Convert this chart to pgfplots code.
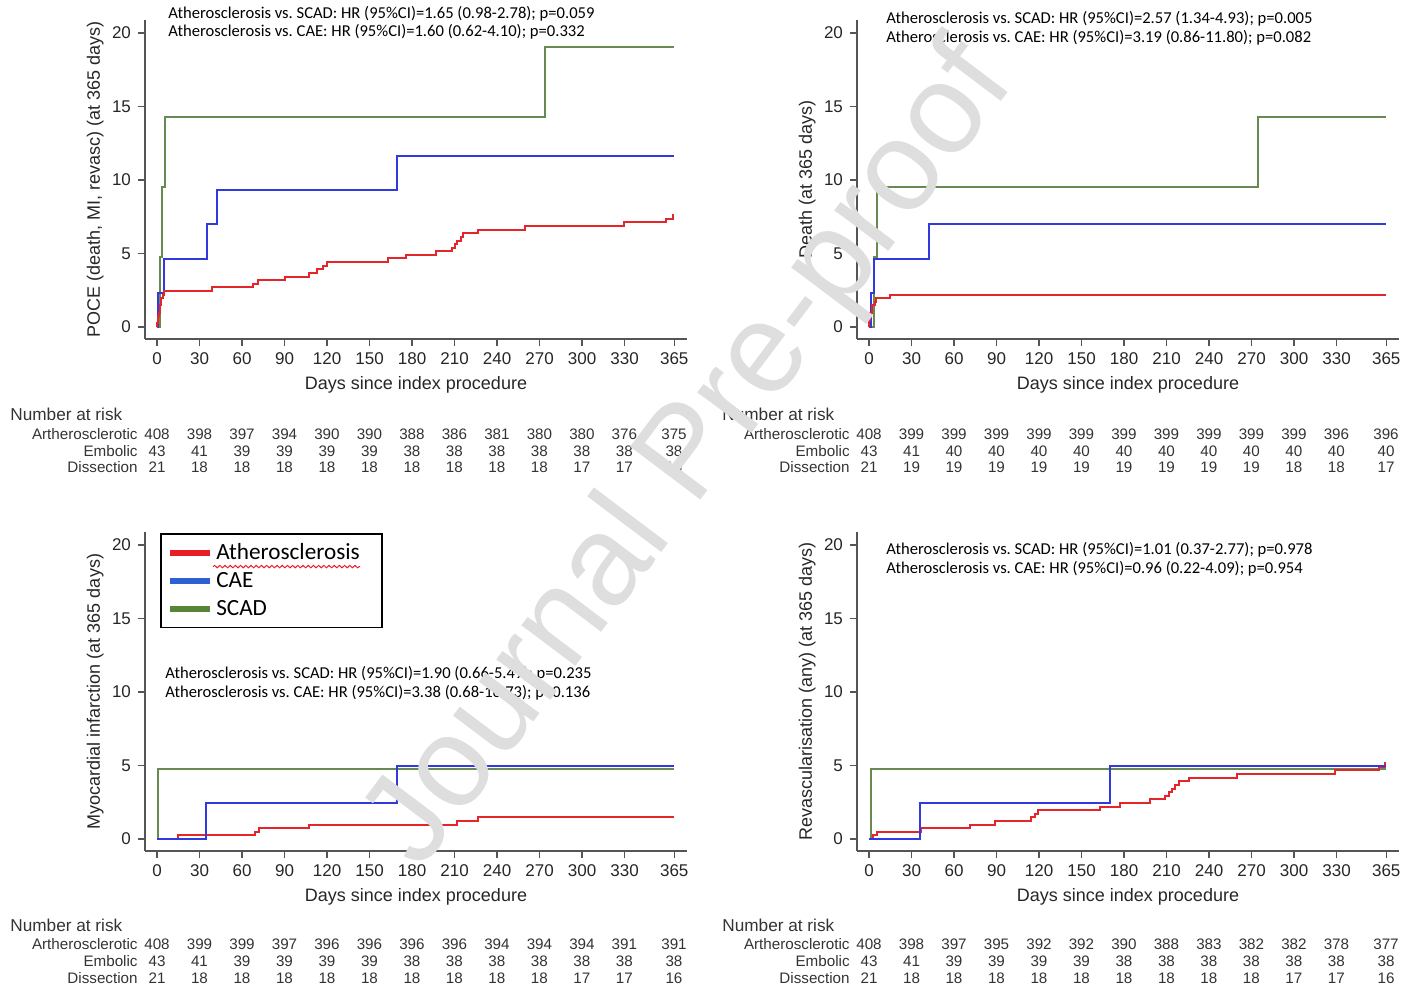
\documentclass[border=0pt]{standalone}
\usepackage{pgfplots}
\pgfplotsset{compat=1.18}
\usepackage{fontspec}
\setmainfont{Liberation Sans}
\newfontfamily\calfont{Carlito}
\usetikzlibrary{decorations.pathmorphing}
\definecolor{kmred}{RGB}{228,38,42}
\definecolor{kmblue}{RGB}{48,58,222}
\definecolor{kmgreen}{RGB}{104,138,82}
\definecolor{lgred}{RGB}{232,30,38}
\definecolor{lgblue}{RGB}{44,96,212}
\definecolor{lggreen}{RGB}{88,132,56}
\definecolor{axgray}{RGB}{85,85,85}
\newcommand\tabfont{\fontsize{7.6}{9}\selectfont}
\newcommand\hrfont{\calfont\fontsize{8.3}{9.5}\selectfont}
\newcommand\riskrow[4]{%
  \node[anchor=east, inner sep=0pt, font=\tabfont, text=black!80] at ({(#1-9.5)*1pt}, {#2*1pt}) {#3};
  \foreach \v [count=\i from 0] in {#4} {
    \pgfmathsetmacro\dd{\i==12 ? 365 : 30*\i}
    \node[font=\tabfont, inner sep=0pt, text=black!80] at ({(#1+0.7082*\dd)*1pt}, {#2*1pt}) {\v};
  }%
}
\pgfplotsset{
  km/.style={
    scale only axis, width=271pt, height=159.5pt, anchor=south west,
    xmin=-8.5, xmax=374, ymin=-0.816, ymax=20.88,
    axis x line*=bottom, axis y line*=left,
    axis line style={axgray, line width=0.7pt},
    xtick={0,30,60,90,120,150,180,210,240,270,300,330,365},
    ytick={0,5,10,15,20},
    tick align=outside, major tick length=3.5pt,
    tick style={axgray, line width=0.7pt},
    tick label style={font=\fontsize{8.5}{10}\selectfont, text=black!85},
    /pgf/number format/assume math mode=true,
    xlabel={Days since index procedure},
    xlabel style={at={(axis description cs:0.5,-0.144)}, anchor=center, font=\fontsize{9}{11}\selectfont, text=black!85},
    ylabel style={at={(axis description cs:-0.092,0.5)}, anchor=center, font=\fontsize{9}{11}\selectfont, text=black!85},
  },
  gr/.style={const plot, kmgreen, line width=1pt, forget plot},
  rd/.style={const plot, kmred, line width=1pt, forget plot},
  bl/.style={const plot, kmblue, line width=1pt, forget plot},
}
\begin{document}
\begin{tikzpicture}
\useasboundingbox (0,0) rectangle (709.5pt,-495.5pt);

% ---------- Top left: POCE
\begin{axis}[km, at={(72.5pt,-169.5pt)}, ylabel={POCE (death, MI, revasc) (at 365 days)}]
\addplot[gr] coordinates {(0,0) (1.8,4.76) (3.3,9.52) (5.8,14.29) (274,19.05) (365,19.05)};
\addplot[bl] coordinates {(0,0) (1,2.33) (4.9,4.65) (35,6.98) (42,9.30) (169,11.63) (365,11.63)};
\addplot[rd] coordinates {(0,0) (0.3,0.25) (0.6,0.49) (1,0.74) (1.5,0.98) (2,1.47) (3,1.96) (4,2.21) (5,2.45) (39,2.70) (68,2.94) (71,3.19) (90,3.43) (107,3.68) (113,3.92) (117,4.17) (120,4.41) (163,4.66) (176,4.90) (197,5.15) (208,5.39) (210,5.64) (212,5.88) (214.5,6.13) (216,6.37) (226.5,6.62) (260,6.86) (329.6,7.11) (359,7.35) (364,7.60) (365,7.60)};
\end{axis}

% ---------- Top right: Death
\begin{axis}[km, at={(428.5pt,-169.5pt)}, ylabel={Death (at 365 days)}]
\addplot[gr] coordinates {(0,0) (3.2,4.76) (5.7,9.52) (274.7,14.29) (365,14.29)};
\addplot[bl] coordinates {(0,0) (1.2,2.33) (3.8,4.65) (42,6.98) (365,6.98)};
\addplot[rd] coordinates {(0,0) (0.3,0.49) (1,0.98) (2,1.47) (4,1.72) (5,1.96) (14.6,2.21) (365,2.21)};
\end{axis}

% ---------- Bottom left: MI
\begin{axis}[km, at={(72.5pt,-425.5pt)}, ylabel={Myocardial infarction (at 365 days)},
  legend image code/.code={\draw[#1, line width=3pt] (0pt,0pt) -- (20pt,0pt);},
  legend cell align=left,
  legend style={at={(0.028,0.997)}, anchor=north west, draw=black, line width=0.9pt,
    font=\calfont\fontsize{11.6}{12}\selectfont, inner xsep=3pt, inner ysep=3pt,
    nodes={inner sep=1.6pt}, row sep=1.8pt}]
\addplot[gr] coordinates {(0,0) (1,4.76) (365,4.76)};
\addplot[rd] coordinates {(0,0) (15,0.25) (69,0.49) (72,0.74) (107,0.98) (212,1.23) (226.5,1.47) (365,1.47)};
\addplot[bl] coordinates {(0,0) (34.7,2.44) (169,4.94) (365,4.94)};
\addlegendimage{lgred}\addlegendentry{Atherosclerosis\hspace*{6.5pt}\mbox{}}
\addlegendimage{lgblue}\addlegendentry{CAE}
\addlegendimage{lggreen}\addlegendentry{SCAD}
\end{axis}

% ---------- Bottom right: Revascularisation
\begin{axis}[km, at={(428.5pt,-425.5pt)}, ylabel={Revascularisation (any) (at 365 days)}]
\addplot[gr] coordinates {(0,0) (1.2,4.76) (365,4.76)};
\addplot[rd] coordinates {(0,0) (3,0.25) (5.5,0.49) (37,0.74) (71,0.98) (89,1.23) (114,1.47) (117,1.72) (119,1.96) (163,2.21) (177,2.45) (198,2.70) (209,2.94) (212,3.19) (214,3.43) (216,3.68) (219,3.92) (226,4.17) (260,4.41) (329,4.66) (360,4.90) (364,5.15) (365,5.15)};
\addplot[bl] coordinates {(0,0) (36,2.44) (170,4.94) (365,4.94)};
\end{axis}

% ---------- HR annotations
\node[anchor=west, inner sep=0pt, font=\hrfont] at (84pt,-7pt) {Atherosclerosis vs.\ SCAD: HR (95\%CI)=1.65 (0.98-2.78); p=0.059};
\node[anchor=west, inner sep=0pt, font=\hrfont] at (84pt,-16pt) {Atherosclerosis vs.\ CAE: HR (95\%CI)=1.60 (0.62-4.10); p=0.332};
\node[anchor=west, inner sep=0pt, font=\hrfont] at (443pt,-9.5pt) {Atherosclerosis vs.\ SCAD: HR (95\%CI)=2.57 (1.34-4.93); p=0.005};
\node[anchor=west, inner sep=0pt, font=\hrfont] at (443pt,-19pt) {Atherosclerosis vs.\ CAE: HR (95\%CI)=3.19 (0.86-11.80); p=0.082};
\node[anchor=west, inner sep=0pt, font=\hrfont] at (82.5pt,-337pt) {Atherosclerosis vs.\ SCAD: HR (95\%CI)=1.90 (0.66-5.49); p=0.235};
\node[anchor=west, inner sep=0pt, font=\hrfont] at (82.5pt,-346.5pt) {Atherosclerosis vs.\ CAE: HR (95\%CI)=3.38 (0.68-16.73); p=0.136};
\node[anchor=west, inner sep=0pt, font=\hrfont] at (443pt,-275pt) {Atherosclerosis vs.\ SCAD: HR (95\%CI)=1.01 (0.37-2.77); p=0.978};
\node[anchor=west, inner sep=0pt, font=\hrfont] at (443pt,-284.5pt) {Atherosclerosis vs.\ CAE: HR (95\%CI)=0.96 (0.22-4.09); p=0.954};

% ---------- legend spell-check underline
\draw[lgred, line width=0.5pt, decorate, decoration={snake, amplitude=0.6pt, segment length=2.6pt}] (106.5pt,-283.3pt) -- (180pt,-283.3pt);

% ---------- Number at risk tables
\node[anchor=west, inner sep=0pt, font=\fontsize{8.6}{10}\selectfont, text=black!80] at (5pt,-207pt) {Number at risk};
\riskrow{78.5}{-217}{Artherosclerotic}{408,398,397,394,390,390,388,386,381,380,380,376,375}
\riskrow{78.5}{-225.5}{Embolic}{43,41,39,39,39,39,38,38,38,38,38,38,38}
\riskrow{78.5}{-233.5}{Dissection}{21,18,18,18,18,18,18,18,18,18,17,17,16}

\node[anchor=west, inner sep=0pt, font=\fontsize{8.6}{10}\selectfont, text=black!80] at (361pt,-207pt) {Number at risk};
\riskrow{434.5}{-217}{Artherosclerotic}{408,399,399,399,399,399,399,399,399,399,399,396,396}
\riskrow{434.5}{-225.5}{Embolic}{43,41,40,40,40,40,40,40,40,40,40,40,40}
\riskrow{434.5}{-233.5}{Dissection}{21,19,19,19,19,19,19,19,19,19,18,18,17}

\node[anchor=west, inner sep=0pt, font=\fontsize{8.6}{10}\selectfont, text=black!80] at (5pt,-462.5pt) {Number at risk};
\riskrow{78.5}{-472}{Artherosclerotic}{408,399,399,397,396,396,396,396,394,394,394,391,391}
\riskrow{78.5}{-480.5}{Embolic}{43,41,39,39,39,39,38,38,38,38,38,38,38}
\riskrow{78.5}{-489}{Dissection}{21,18,18,18,18,18,18,18,18,18,17,17,16}

\node[anchor=west, inner sep=0pt, font=\fontsize{8.6}{10}\selectfont, text=black!80] at (361pt,-462.5pt) {Number at risk};
\riskrow{434.5}{-472}{Artherosclerotic}{408,398,397,395,392,392,390,388,383,382,382,378,377}
\riskrow{434.5}{-480.5}{Embolic}{43,41,39,39,39,39,38,38,38,38,38,38,38}
\riskrow{434.5}{-489}{Dissection}{21,18,18,18,18,18,18,18,18,18,17,17,16}

% ---------- watermark
\node[rotate=53, text=black!13, font=\fontsize{64}{64}\selectfont, inner sep=0pt] at (346pt,-228.5pt) {Journal Pre-proof};
\end{tikzpicture}
\end{document}
